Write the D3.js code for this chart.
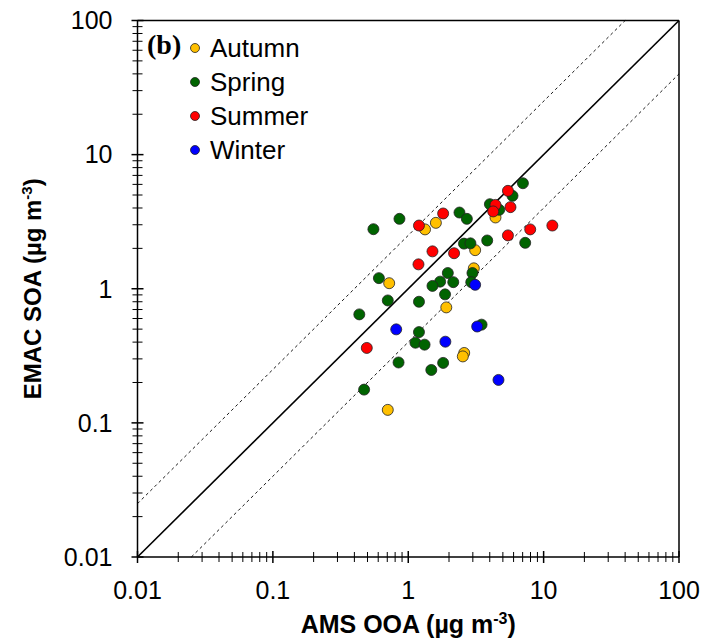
<!DOCTYPE html>
<html>
<head>
<meta charset="utf-8">
<script src="https://cdnjs.cloudflare.com/ajax/libs/d3/7.8.5/d3.min.js"></script>
<style>
  body { margin: 0; background: #fff; }
  text { font-family: "Liberation Sans", Arial, sans-serif; }
  text.serif { font-family: "Liberation Serif", "Times New Roman", serif; }
</style>
</head>
<body>
<svg id="chart" width="705" height="642"></svg>
<script>
// AMS OOA (x) vs EMAC SOA (y), ug m-3
var autumnX = [4.41, 1.33, 1.60, 3.12, 3.05, 0.723, 1.91, 2.59, 2.53, 0.706];
var autumnY = [3.40, 2.77, 3.10, 1.94, 1.42, 1.10, 0.726, 0.332, 0.313, 0.125];

var springX = [7.03, 5.89, 4.01, 4.70, 2.39, 2.71, 0.861, 0.553, 7.31, 3.83, 2.58, 2.88,
               2.98, 1.96, 1.72, 2.15, 1.51, 2.92, 0.607, 0.706, 1.87, 1.20, 0.435,
               1.20, 1.13, 1.32, 3.48, 0.848, 1.81, 1.48, 0.472];
var springY = [6.12, 4.93, 4.27, 3.88, 3.70, 3.32, 3.32, 2.78, 2.20, 2.29, 2.17, 2.18,
               1.31, 1.31, 1.13, 1.12, 1.05, 1.12, 1.20, 0.818, 0.908, 0.80, 0.644,
               0.475, 0.396, 0.383, 0.540, 0.282, 0.280, 0.248, 0.177];

var summerX = [5.45, 4.41, 4.24, 5.69, 1.81, 1.20, 11.6, 7.96, 5.45, 1.51, 2.18, 1.19, 0.494];
var summerY = [5.37, 4.22, 3.77, 4.06, 3.64, 2.96, 2.96, 2.77, 2.50, 1.90, 1.84, 1.52, 0.362];

var winterX = [3.12, 0.815, 1.88, 3.23, 4.64];
var winterY = [1.07, 0.498, 0.403, 0.523, 0.209];

var seasons = ["Autumn", "Spring", "Summer", "Winter"];
var colors = ["#FFC000", "#006400", "#FF0000", "#0000FF"];

var tickValues = [0.01, 0.1, 1, 10, 100];
var tickLabels = ["0.01", "0.1", "1", "10", "100"];
var ratioLines = [1, 2.5, 0.4];

var margin = {left: 137.5, top: 20.5, right: 26, bottom: 85};
var width = 705 - margin.left - margin.right;
var height = 642 - margin.top - margin.bottom;

var svg = d3.select("#chart");
var g = svg.append("g").attr("transform", "translate(" + margin.left + "," + margin.top + ")");

var x = d3.scaleLog().domain([0.01, 100]).range([0, width]);
var y = d3.scaleLog().domain([0.01, 100]).range([height, 0]);

var minorTicks = [];
tickValues.slice(0, -1).forEach(function(d) {
  for (var k = 2; k <= 9; k++) minorTicks.push(d * k);
});

// frame on top and right
g.append("line").attr("x1", 0).attr("x2", width).attr("y1", 0).attr("y2", 0)
  .attr("stroke", "#000").attr("stroke-width", 1.5);
g.append("line").attr("x1", width).attr("x2", width).attr("y1", 0).attr("y2", height)
  .attr("stroke", "#000").attr("stroke-width", 1.5);

// 1:1 and 1:2.5 lines
ratioLines.forEach(function(r) {
  var x0 = Math.max(0.01, 0.01 / r), x1 = Math.min(100, 100 / r);
  g.append("line")
    .attr("x1", x(x0)).attr("y1", y(x0 * r))
    .attr("x2", x(x1)).attr("y2", y(x1 * r))
    .attr("stroke", "#000")
    .attr("stroke-width", r == 1 ? 1.6 : 0.9)
    .attr("stroke-dasharray", r == 1 ? null : "3,3");
});

// axes
var xAxis = g.append("g").attr("transform", "translate(0," + height + ")");
xAxis.append("line").attr("x1", 0).attr("x2", width).attr("stroke", "#000").attr("stroke-width", 1.5);
xAxis.selectAll(".major").data(tickValues).enter().append("line")
  .attr("x1", d => x(d)).attr("x2", d => x(d)).attr("y1", -6).attr("y2", 6)
  .attr("stroke", "#000").attr("stroke-width", 1.5);
xAxis.selectAll(".minor").data(minorTicks).enter().append("line")
  .attr("x1", d => x(d)).attr("x2", d => x(d)).attr("y1", -5).attr("y2", 5)
  .attr("stroke", "#000").attr("stroke-width", 1);
xAxis.selectAll(".lbl").data(tickValues).enter().append("text")
  .attr("x", d => x(d)).attr("y", 42)
  .attr("text-anchor", "middle").attr("font-size", 25)
  .text((d, i) => tickLabels[i]);

var yAxis = g.append("g");
yAxis.append("line").attr("y1", 0).attr("y2", height).attr("stroke", "#000").attr("stroke-width", 1.5);
yAxis.selectAll(".major").data(tickValues).enter().append("line")
  .attr("y1", d => y(d)).attr("y2", d => y(d)).attr("x1", -6).attr("x2", 6)
  .attr("stroke", "#000").attr("stroke-width", 1.5);
yAxis.selectAll(".minor").data(minorTicks).enter().append("line")
  .attr("y1", d => y(d)).attr("y2", d => y(d)).attr("x1", -5).attr("x2", 5)
  .attr("stroke", "#000").attr("stroke-width", 1);
yAxis.selectAll(".lbl").data(tickValues).enter().append("text")
  .attr("x", -25).attr("y", d => y(d)).attr("dy", "0.35em")
  .attr("text-anchor", "end").attr("font-size", 25)
  .text((d, i) => tickLabels[i]);

// axis titles
var xt = svg.append("text").attr("x", margin.left + width / 2).attr("y", 633)
  .attr("text-anchor", "middle").attr("font-size", 25).attr("font-weight", "bold");
xt.append("tspan").text("AMS OOA (µg m");
xt.append("tspan").attr("font-size", 16).attr("dy", -9).text("-3");
xt.append("tspan").attr("dy", 9).text(")");

var yt = svg.append("text").attr("transform", "translate(41," + (margin.top + height / 2) + ") rotate(-90)")
  .attr("text-anchor", "middle").attr("font-size", 24).attr("font-weight", "bold");
yt.append("tspan").text("EMAC SOA (µg m");
yt.append("tspan").attr("font-size", 15).attr("dy", -9).text("-3");
yt.append("tspan").attr("dy", 9).text(")");

// points
var allX = [autumnX, springX, summerX, winterX];
var allY = [autumnY, springY, summerY, winterY];
seasons.forEach(function(s, i) {
  var pts = allX[i].map((v, j) => [v, allY[i][j]]);
  g.append("g").selectAll("circle").data(pts).enter().append("circle")
    .attr("cx", d => x(d[0])).attr("cy", d => y(d[1])).attr("r", 5.5)
    .attr("fill", colors[i]).attr("stroke", "#222").attr("stroke-width", 0.8);
});

// panel label and legend
svg.append("text").attr("class", "serif").attr("x", 147).attr("y", 54)
  .attr("font-size", 28).attr("font-weight", "bold").text("(b)");

var legend = svg.append("g").attr("transform", "translate(195,48)");
seasons.forEach(function(s, i) {
  var row = legend.append("g").attr("transform", "translate(0," + (i * 34) + ")");
  row.append("circle").attr("r", 4.5).attr("fill", colors[i]).attr("stroke", "#222").attr("stroke-width", 0.8);
  row.append("text").attr("x", 15).attr("dy", "0.35em").attr("font-size", 26).text(s);
});
</script>
</body>
</html>
